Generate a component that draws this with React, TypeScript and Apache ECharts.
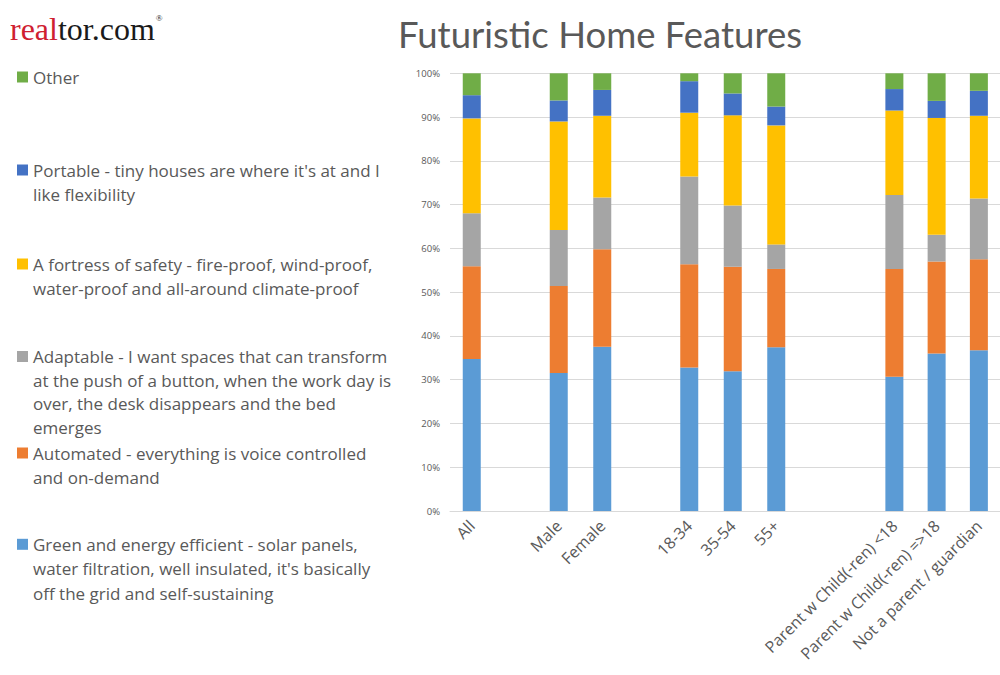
import React, { useEffect, useRef } from "react";
import * as echarts from "echarts";

// Categories (in drawing order)
const categories = [
  "All",
  "Male",
  "Female",
  "18-34",
  "35-54",
  "55+",
  "Parent w Child(-ren) <18",
  "Parent w Child(-ren) =>18",
  "Not a parent / guardian",
];

// Series values (percent), bottom of stack to top
const greenEnergy = [34.7, 31.5, 37.5, 32.8, 31.9, 37.4, 30.7, 36.0, 36.7];
const automated = [21.2, 19.9, 22.3, 23.6, 23.9, 17.9, 24.6, 21.0, 20.8];
const adaptable = [12.1, 12.8, 11.8, 20.0, 14.0, 5.6, 16.9, 6.1, 13.9];
const fortress = [21.7, 24.8, 18.7, 14.6, 20.6, 27.2, 19.3, 26.7, 18.9];
const portable = [5.3, 4.8, 5.9, 7.2, 5.0, 4.3, 4.9, 3.9, 5.7];
const other = [5.0, 6.2, 3.8, 1.8, 4.6, 7.6, 3.6, 6.3, 4.0];

const seriesNames = [
  "Green and energy efficient - solar panels, water filtration, well insulated, it's basically off the grid and self-sustaining",
  "Automated - everything is voice controlled and on-demand",
  "Adaptable - I want spaces that can transform at the push of a button, when the work day is over, the desk disappears and the bed emerges",
  "A fortress of safety - fire-proof, wind-proof, water-proof and all-around climate-proof",
  "Portable - tiny houses are where it's at and I like flexibility",
  "Other",
];

const legendLines = [
  ["Green and energy efficient - solar panels,", "water filtration, well insulated, it's basically", "off the grid and self-sustaining"],
  ["Automated - everything is voice controlled", "and on-demand"],
  ["Adaptable - I want spaces that can transform", "at the push of a button, when the work day is", "over, the desk disappears and the bed", "emerges"],
  ["A fortress of safety - fire-proof, wind-proof,", "water-proof and all-around climate-proof"],
  ["Portable - tiny houses are where it's at and I", "like flexibility"],
  ["Other"],
];

const seriesValues = [greenEnergy, automated, adaptable, fortress, portable, other];
const colors = ["#5b9bd5", "#ed7d31", "#a5a5a5", "#ffc000", "#4472c4", "#70ad47"];

const yTicks = [0, 10, 20, 30, 40, 50, 60, 70, 80, 90, 100];

// slot layout: category index or null (empty gap)
const leftLayout: (number | null)[] = [0, null, 1, 2, null, 3, 4, 5, null, null];
const rightLayout: (number | null)[] = [6, 7, 8];

const FONT = "'Open Sans', 'Noto Sans', sans-serif";
const TITLE_FONT = "Lato, 'Open Sans', sans-serif";
const TXT = "#595959";
const GRID_LINE = "#d9d9d9";

export default function App() {
  const ref = useRef<HTMLDivElement>(null);

  useEffect(() => {
    if (!ref.current) return;
    const chart = echarts.init(ref.current, undefined, { renderer: "svg" });

    const slotLabels = (layout: (number | null)[]) =>
      layout.map((i) => (i === null ? "" : categories[i]));
    const slotData = (layout: (number | null)[], vals: number[]) =>
      layout.map((i) => (i === null ? "-" : vals[i]));

    const gridTop = 73.3;
    const gridH = 437.7;

    const xAxisBase = {
      type: "category" as const,
      axisLine: { show: true, lineStyle: { color: GRID_LINE, width: 1 } },
      axisTick: { show: false },
      axisLabel: {
        rotate: 45,
        interval: 0,
        fontSize: 16,
        color: TXT,
        fontFamily: FONT,
        margin: 12,
      },
    };
    const yAxisBase = {
      type: "value" as const,
      min: yTicks[0],
      max: yTicks[yTicks.length - 1],
      interval: yTicks[1] - yTicks[0],
      axisLine: { show: false },
      axisTick: { show: false },
      splitLine: { show: true, lineStyle: { color: GRID_LINE, width: 1 } },
    };

    const series: any[] = [];
    seriesNames.forEach((name, s) => {
      series.push({
        type: "bar",
        name,
        stack: "left",
        xAxisIndex: 0,
        yAxisIndex: 0,
        barWidth: 18,
        itemStyle: { color: colors[s] },
        data: slotData(leftLayout, seriesValues[s]),
      });
      series.push({
        type: "bar",
        name,
        stack: "right",
        xAxisIndex: 1,
        yAxisIndex: 1,
        barWidth: 18,
        itemStyle: { color: colors[s] },
        data: slotData(rightLayout, seriesValues[s]),
      });
    });

    // legend layout (top to bottom): first-line centre and line step per item
    const legendOrder = [5, 4, 3, 2, 1, 0];
    const legendY = [77, 170, 264, 356.5, 453, 544.3];
    const legendStep = [24.5, 24.5, 24.5, 23.6, 24.5, 24.5];

    const legendGraphics: any[] = [];
    legendOrder.forEach((idx, k) => {
      const yc = legendY[k];
      legendGraphics.push({
        type: "rect",
        shape: { x: 17, y: yc - 5.5, width: 11, height: 11 },
        style: { fill: colors[idx] },
      });
      legendLines[idx].forEach((line, j) => {
        legendGraphics.push({
          type: "text",
          x: 33,
          y: yc + j * legendStep[k],
          style: {
            text: line,
            fontSize: 17,
            lineHeight: 18,
            fontFamily: FONT,
            fill: TXT,
            verticalAlign: "middle",
            align: "left",
          },
        });
      });
    });

    chart.setOption({
      animation: false,
      backgroundColor: "#ffffff",
      grid: [
        { left: 450, top: gridTop, width: 435, height: gridH },
        { left: 873.25, top: gridTop, width: 130.5, height: gridH },
      ],
      xAxis: [
        { ...xAxisBase, gridIndex: 0, data: slotLabels(leftLayout) },
        { ...xAxisBase, gridIndex: 1, data: slotLabels(rightLayout) },
      ],
      yAxis: [
        {
          ...yAxisBase,
          gridIndex: 0,
          axisLabel: {
            formatter: "{value}%",
            fontSize: 9.5,
            color: TXT,
            fontFamily: FONT,
            margin: 10,
          },
        },
        { ...yAxisBase, gridIndex: 1, axisLabel: { show: false } },
      ],
      series,
      graphic: [
        {
          type: "text",
          x: 600,
          y: 34,
          style: {
            text: "Futuristic Home Features",
            fontSize: 36.5,
            fontFamily: TITLE_FONT,
            fill: TXT,
            align: "center",
            verticalAlign: "middle",
          },
        },
        {
          type: "text",
          x: 10,
          y: 29,
          style: {
            text: "{r|real}{b|tor.com}{s|®}",
            verticalAlign: "middle",
            align: "left",
            rich: {
              r: { fontFamily: "'Liberation Serif', serif", fontSize: 32, fill: "#cf2030" },
              b: { fontFamily: "'Liberation Serif', serif", fontSize: 32, fill: "#1a1a1a" },
              s: { fontFamily: "'Liberation Serif', serif", fontSize: 9, fill: "#1a1a1a", verticalAlign: "top", padding: [0, 0, 14, 1] },
            },
          },
        },
        ...legendGraphics,
      ],
    });

    return () => chart.dispose();
  }, []);

  return (
    <div
      ref={ref}
      style={{ position: "fixed", left: 0, top: 0, width: 1000, height: 675, background: "#fff" }}
    />
  );
}
